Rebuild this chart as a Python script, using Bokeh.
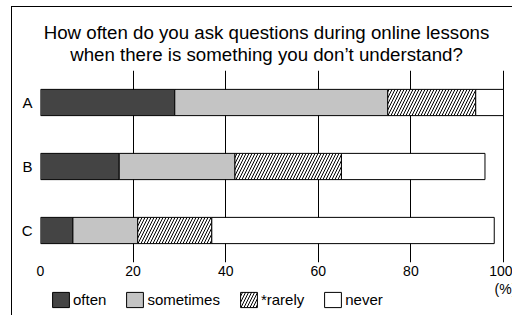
import pandas as pd
from bokeh.plotting import figure
from bokeh.layouts import column
from bokeh.models import (ColumnDataSource, FactorRange, Range1d, Legend, LegendItem,
                          FixedTicker, Label)
from bokeh.embed import file_html
from bokeh.resources import INLINE

groups = ["A", "B", "C"]
series = ["often", "sometimes", "rarely", "never"]
legend_labels = ["often", "sometimes", "*rarely", "never"]
often = [29, 17, 7]
sometimes = [46, 25, 14]
rarely = [19, 23, 16]
never = [6, 31, 61]
x_ticks = [0, 20, 40, 60, 80, 100]
title_lines = ["How often do you ask questions during online lessons",
               "when there is something you don\u2019t understand?"]
unit_label = "(%)"

FONT = "Liberation Sans"
fills = ["#444444", "#c4c4c4", "white", "white"]
hatches = [None, None, "right_diagonal_line", None]

W = 512
H_TITLE, H_MAIN, H_LEG = 70, 212, 33
FRAME_L, X100_PX = 40, 503      # pixel of 0 % and of 100 %

# the chart area runs to the right edge; 100 % sits 9 px before it
x_end = 100 * (W - FRAME_L) / (X100_PX - FRAME_L)

df = pd.DataFrame({"group": groups, "often": often, "sometimes": sometimes,
                   "rarely": rarely, "never": never})
cum = df[series].cumsum(axis=1)


def plain(fig):
    fig.outline_line_color = None
    fig.border_fill_color = None
    fig.background_fill_color = None
    return fig


# ---- title strip ----
tfig = plain(figure(width=W, height=H_TITLE, output_backend="svg", toolbar_location=None,
                    title=None, x_axis_type=None, y_axis_type=None,
                    x_range=Range1d(0, x_end), y_range=Range1d(0, H_TITLE),
                    min_border_left=FRAME_L, min_border_right=0,
                    min_border_top=0, min_border_bottom=0))
tfig.grid.grid_line_color = None
for line, base in zip(title_lines, [H_TITLE - 32, H_TITLE - 53.5]):
    tfig.add_layout(Label(x=50, y=base, x_offset=-5.5, text=line, text_align="center",
                          text_baseline="alphabetic", text_font=FONT,
                          text_font_size="18.7px", text_color="black"))

# ---- chart ----
p = plain(figure(width=W, height=H_MAIN, output_backend="svg", toolbar_location=None,
                 title=None,
                 y_range=FactorRange(factors=groups[::-1], range_padding=0),
                 x_range=Range1d(0, x_end),
                 min_border_left=FRAME_L, min_border_right=0, min_border_top=0,
                 min_border_bottom=20))


def bar_style(i):
    kw = dict(fill_color=fills[i], line_color="black", line_width=1)
    if hatches[i]:
        kw.update(hatch_pattern=hatches[i], hatch_color="black", hatch_scale=6,
                  hatch_weight=1)
    return kw


for i, s in enumerate(series):
    right = cum[s]
    left = right - df[s]
    src = ColumnDataSource(dict(y=df["group"], left=left, right=right))
    p.hbar(y="y", left="left", right="right", height=0.41, source=src, **bar_style(i))

p.xaxis.ticker = FixedTicker(ticks=x_ticks)
p.xaxis.axis_line_color = None
p.xaxis.major_tick_out = 0
p.xaxis.major_tick_in = 0
p.xaxis.minor_tick_line_color = None
p.xaxis.major_label_standoff = 3
p.xaxis.major_label_text_font = FONT
p.xaxis.major_label_text_font_size = "14px"
p.xaxis.major_label_text_color = "black"

p.yaxis.axis_line_color = None
p.yaxis.major_tick_line_color = None
p.yaxis.major_tick_out = 0
p.yaxis.major_label_standoff = 8
p.yaxis.major_label_text_font = FONT
p.yaxis.major_label_text_font_size = "15px"
p.yaxis.major_label_text_color = "black"

p.ygrid.grid_line_color = None
p.xgrid.ticker = FixedTicker(ticks=x_ticks)
p.xgrid.grid_line_color = "black"
p.xgrid.grid_line_width = 1

# ---- legend strip ----
leg = plain(figure(width=W, height=H_LEG, output_backend="svg", toolbar_location=None,
                   title=None, x_axis_type=None, y_axis_type=None,
                   x_range=Range1d(0, x_end), y_range=Range1d(0, H_LEG),
                   min_border_left=FRAME_L, min_border_right=0, min_border_top=0,
                   min_border_bottom=0))
leg.grid.grid_line_color = None

# legend proxies: one zero-size bar each, outside the visible range
leg_renderers = []
for i in range(len(series)):
    proxy = ColumnDataSource(dict(y=[-H_LEG], left=[0], right=[0]))
    leg_renderers.append(leg.hbar(y="y", left="left", right="right", height=0.4,
                                  source=proxy, **bar_style(i)))
legend = Legend(items=[LegendItem(label=legend_labels[i], renderers=[leg_renderers[i]])
                       for i in range(len(series))],
                orientation="horizontal", location=(10, 6),
                glyph_width=21, glyph_height=19, label_standoff=2, spacing=18,
                padding=0, margin=0, border_line_color=None,
                background_fill_alpha=0,
                label_text_font=FONT, label_text_font_size="15px",
                label_text_color="black")
leg.add_layout(legend, "center")
leg.add_layout(Label(x=100, y=H_LEG + 2, x_units="data", y_units="data", text=unit_label,
                     x_offset=2, text_align="center", text_baseline="top",
                     text_font=FONT, text_font_size="14px", text_color="black"))

layout = column(tfig, p, leg, spacing=0)
layout.styles = {"background": "linear-gradient(#000,#000) 11px 6px / 1px 100% no-repeat, "
                               "linear-gradient(#000,#000) 11px 6px / 100% 1px no-repeat, #fff"}

open("out.html", "w").write(file_html(layout, INLINE))
